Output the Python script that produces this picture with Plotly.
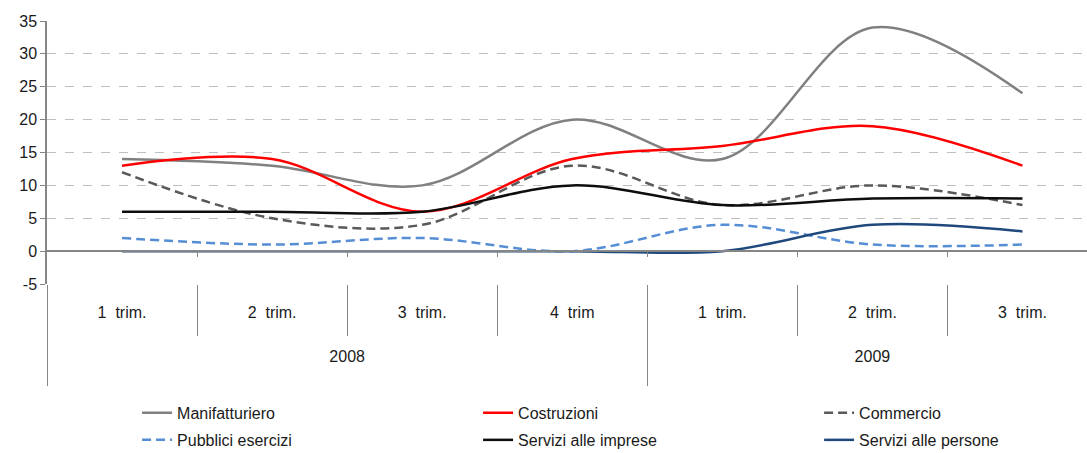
import plotly.graph_objects as go

# Data
years = ["<br><br>2008<br> "] * 4 + ["<br><br>2009<br> "] * 3
quarters = ["1  trim.", "2  trim.", "3  trim.", "4  trim", "1  trim.", "2  trim.", "3  trim."]

manifatturiero = [14, 13, 10, 20, 14, 34, 24]
costruzioni = [13, 14, 6, 14, 16, 19, 13]
commercio = [12, 5, 4, 13, 7, 10, 7]
pubblici_esercizi = [2, 1, 2, 0, 4, 1, 1]
servizi_imprese = [6, 6, 6, 10, 7, 8, 8]
servizi_persone = [0, 0, 0, 0, 0, 4, 3]

y_ticks = [-5, 0, 5, 10, 15, 20, 25, 30, 35]
y_ticktext = ["-5", "0", "5", "10", "15", "20", "25", "30", "35"]

FONT = "Liberation Sans, Arial, sans-serif"
AXIS_GRAY = "#868686"
TEXT = "#1a1a1a"

series = [
    ("Manifatturiero", manifatturiero, "#808080", "solid"),
    ("Costruzioni", costruzioni, "#FF0000", "solid"),
    ("Commercio", commercio, "#595959", "9px,5px"),
    ("Pubblici esercizi", pubblici_esercizi, "#558ED5", "9px,5px"),
    ("Servizi alle imprese", servizi_imprese, "#0D0D0D", "solid"),
    ("Servizi alle persone", servizi_persone, "#1F497D", "solid"),
]

# legend slots: 3 columns x 2 rows, positions in plot-area paper coords
legend_x = [0.0866, 0.4145, 0.7424]
legend_y = [-0.490, -0.593]

fig = go.Figure()

legend_layout = {}
for i, (name, vals, color, dash) in enumerate(series):
    key = "legend" if i == 0 else f"legend{i + 1}"
    fig.add_trace(go.Scatter(
        x=[years, quarters], y=vals,
        mode="lines",
        name=name,
        line=dict(color=color, width=2.5, dash=dash, shape="spline", smoothing=1.0),
        legend=key,
    ))
    legend_layout[key] = dict(
        x=legend_x[i % 3], y=legend_y[i // 3],
        xanchor="left", yanchor="middle",
        font=dict(family=FONT, size=16, color=TEXT),
        bgcolor="rgba(0,0,0,0)",
    )

# invisible helper trace so the zero-line axis is drawn
fig.add_trace(go.Scatter(x=[0], y=[0], xaxis="x2", mode="lines",
                         showlegend=False, hoverinfo="skip", opacity=0))

fig.update_layout(
    width=1087, height=453,
    margin=dict(l=47, r=0, t=21, b=169, autoexpand=False),
    plot_bgcolor="white", paper_bgcolor="white",
    font=dict(family=FONT, size=16, color=TEXT),
    xaxis=dict(
        type="multicategory",
        range=[-0.5, 6.43],
        automargin=False,
        showgrid=False, zeroline=False, showline=False,
        ticks="outside", ticklen=51, tickcolor=AXIS_GRAY, tickwidth=1,
        ticklabelstandoff=17,
        showdividers=True, dividercolor=AXIS_GRAY, dividerwidth=1,
        tickfont=dict(family=FONT, size=16, color=TEXT),
    ),
    xaxis2=dict(
        overlaying="x", anchor="free", position=0.125,
        range=[-0.5, 6.43], showgrid=False, zeroline=False,
        automargin=False,
        showline=True, linecolor=AXIS_GRAY, linewidth=2,
        tickvals=[0.5, 1.5, 2.5, 3.5, 4.5, 5.5],
        ticks="outside", ticklen=5, tickcolor=AXIS_GRAY,
        showticklabels=False,
    ),
    yaxis=dict(
        range=[-5, 35], tickvals=y_ticks, ticktext=y_ticktext,
        automargin=False,
        showgrid=True, gridcolor="#BFBFBF", griddash="dash", gridwidth=1,
        zeroline=False,
        showline=True, linecolor=AXIS_GRAY, linewidth=1.5,
        ticks="outside", ticklen=5, tickcolor=AXIS_GRAY,
        tickfont=dict(family=FONT, size=16, color=TEXT),
    ),
    **legend_layout,
)

fig.write_html("out.html", config={"displayModeBar": False},
               post_script="document.body.style.margin='0';")
